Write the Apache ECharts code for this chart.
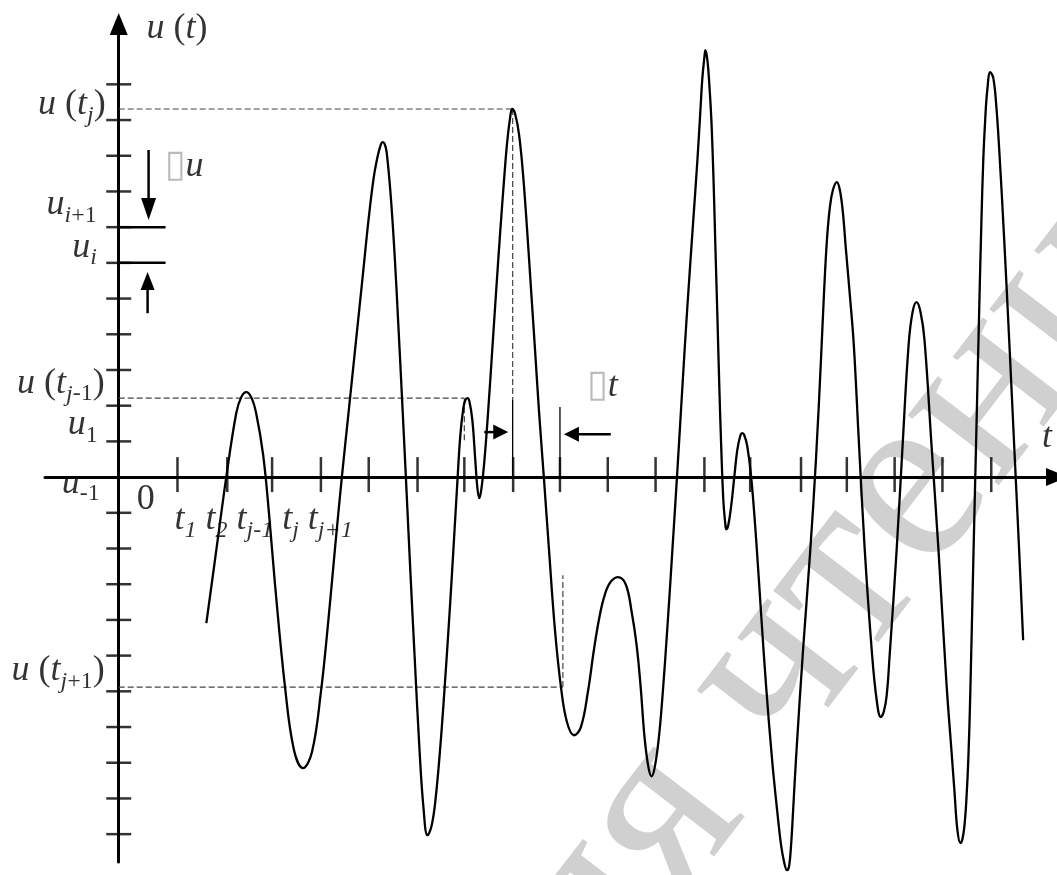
<!DOCTYPE html>
<html><head><meta charset="utf-8">
<script src="https://cdn.jsdelivr.net/npm/echarts@6/dist/echarts.min.js"></script>
<style>html,body{margin:0;padding:0;background:#fff}#c{width:1057px;height:875px}</style>
</head><body><div id="c"></div>
<script>
// ---- signal samples [t, u] (t in tick units, u in level units) ----
const signal = [
  [1.833,-4.09],[2.042,-2.04],[2.25,0],[2.458,1.79],[2.563,2.24],[2.667,2.38],
  [2.771,2.24],[2.875,1.79],[3.021,0.62],[3.146,-1.06],[3.271,-3.03],[3.479,-5.88],[3.667,-7.65],[3.854,-8.15],
  [4.042,-7.70],[4.229,-6.02],[4.375,-4.15],[4.521,-2.04],[4.667,0],[4.813,1.88],[4.958,3.75],[5.104,5.63],[5.229,7.25],[5.333,8.38],[5.417,8.99],[5.479,9.30],[5.521,9.38],
  [5.563,9.33],[5.604,9.10],[5.688,7.90],[5.771,6.22],[5.854,4.12],[5.938,1.88],[6.021,-0.42],[6.104,-2.75],[6.188,-4.99],[6.292,-7.65],[6.375,-9.27],[6.458,-10.03],
  [6.542,-9.78],[6.625,-9.05],[6.729,-7.51],[6.813,-5.97],[6.917,-3.87],[7.0,-2.04],[7.083,-0.14],[7.146,1.18],[7.208,1.93],[7.25,2.16],[7.292,2.21],
  [7.333,2.13],[7.396,1.60],[7.458,0.48],[7.5,-0.28],[7.542,-0.59],
  [7.583,-0.36],[7.646,0.42],[7.729,1.88],[7.813,3.56],[7.896,5.24],[7.979,6.86],[8.063,8.38],[8.125,9.38],[8.188,10.08],[8.229,10.31],
  [8.292,10.17],[8.375,9.58],[8.458,8.46],[8.542,6.92],[8.625,5.24],[8.708,3.56],[8.792,1.82],[8.896,-0.08],[9.0,-2.04],[9.125,-4.29],[9.25,-5.88],[9.375,-6.86],[9.521,-7.23],
  [9.667,-7.00],[9.813,-6.02],[9.938,-4.85],[10.042,-4.01],[10.146,-3.39],[10.271,-2.97],[10.438,-2.80],
  [10.604,-3.00],[10.729,-3.78],[10.833,-4.71],[10.917,-5.88],[11.0,-7.31],[11.083,-8.15],[11.146,-8.38],
  [11.208,-8.15],[11.292,-7.37],[11.375,-6.11],[11.479,-4.15],[11.583,-1.99],[11.688,0.25],[11.792,2.58],[11.896,4.82],[12.0,6.86],[12.104,8.88],[12.167,10.28],[12.208,11.18],[12.25,11.76],[12.271,11.96],
  [12.313,11.68],[12.354,10.98],[12.396,10.00],[12.438,8.46],[12.479,6.50],[12.521,4.54],[12.563,2.49],[12.604,0.76],[12.646,-0.64],[12.688,-1.32],[12.708,-1.46],
  [12.75,-1.34],[12.813,-0.78],[12.875,0],[12.938,0.76],[13.0,1.15],[13.042,1.23],
  [13.083,1.18],[13.146,0.87],[13.229,0],[13.333,-1.76],[13.438,-3.87],[13.542,-5.88],[13.667,-7.93],[13.771,-9.33],[13.854,-10.31],[13.917,-10.78],[13.979,-11.01],
  [14.021,-10.90],[14.063,-10.31],[14.104,-9.38],[14.167,-7.87],[14.313,-4.85],[14.458,-2.18],[14.583,0.48],[14.688,3.28],[14.75,5.10],[14.813,6.64],[14.875,7.56],[14.938,8.04],[15.021,8.26],
  [15.083,8.04],[15.146,7.42],[15.208,6.41],[15.292,5.10],[15.375,3.70],[15.479,1.04],[15.604,-2.04],[15.75,-4.85],[15.854,-6.25],[15.938,-6.72],
  [16.0,-6.58],[16.063,-6.11],[16.125,-4.99],[16.271,-2.04],[16.396,0.90],[16.521,3.70],[16.604,4.62],[16.688,4.90],
  [16.771,4.62],[16.854,3.84],[17.0,0.90],[17.146,-2.04],[17.313,-5.77],[17.417,-7.65],[17.479,-8.77],[17.542,-9.89],[17.604,-10.25],
  [17.646,-10.14],[17.688,-9.78],[17.729,-9.05],[17.771,-7.87],[17.813,-5.97],[17.875,-2.32],[17.938,1.26],[18.0,4.82],[18.042,7.06],[18.083,8.88],[18.125,10.06],[18.167,10.84],[18.229,11.34],
  [18.292,11.18],[18.354,10.42],[18.417,9.16],[18.521,6.64],[18.625,3.84],[18.729,0.90],[18.833,-2.04],[18.917,-4.57]
];
// ---- axis ticks ----
const xTicks = [1.229,2.271,3.208,4.229,5.229,6.25,7.229,8.25,9.229,10.229,11.229,12.25,13.208,14.271,15.229,16.229,17.229,18.25];
const yTicks = [-10,-9,-8,-7,-6,-5,-4,-3,-2,-1,1,2,3,4,5,6,7,8,9,10,11];
// ---- quantisation levels u_i, u_{i+1} ----
const levelU = [6, 7];
// ---- sampled instants and values ----
const tJm1 = 7.229, uJm1 = 2.21;
const tJ = 8.24,   uJ = 10.31;
const tJp1 = 9.29, uJp1 = -5.88;
const tDtRight = 9.229;

const FONT = '"Liberation Serif","Times New Roman",serif';

function seg(points, color, width, type, z) {
  return {type:'line', data:points, symbol:'none', showSymbol:false, silent:true, clip:false,
    lineStyle:{color:color, width:width, type:type || 'solid'}, z:z || 2};
}
function arrow(from, to, size, rot) {
  return {type:'line', data:[{value:from, symbol:'none'}, {value:to, symbol:'triangle', symbolSize:size, symbolRotate:rot}],
    showSymbol:true, silent:true, clip:false, itemStyle:{color:'#000'},
    lineStyle:{color:'#000', width:2.5}, z:4};
}

const rich = {
  i:{fontFamily:FONT, fontStyle:'italic', fontSize:36, lineHeight:46, verticalAlign:'middle', color:'#000'},
  r:{fontFamily:FONT, fontSize:36, lineHeight:46, verticalAlign:'middle', color:'#000'},
  si:{fontFamily:FONT, fontStyle:'italic', fontSize:24, lineHeight:24, verticalAlign:'bottom', color:'#000'},
  sr:{fontFamily:FONT, fontSize:24, lineHeight:24, verticalAlign:'bottom', color:'#000'},
  bx:{fontFamily:'"DejaVu Sans"', fontSize:38, lineHeight:46, verticalAlign:'middle', color:'#aaa'}
};

// annotation texts and anchors
const annotations = [
  {c:[0.583,12.55], pos:'right', text:'{i|u} {r|(}{i|t}{r|)}'},
  {c:[-0.271,10.43], pos:'left', text:'{i|u} {r|(}{i|t}{si|j}{r|)}'},
  {c:[-0.458,7.62], pos:'left', text:'{i|u}{si|i}{sr|+1}'},
  {c:[-0.458,6.44], pos:'left', text:'{i|u}{si|i}'},
  {c:[-0.292,2.63], pos:'left', text:'{i|u} {r|(}{i|t}{si|j}{sr|-1}{r|)}'},
  {c:[-0.4375,1.46], pos:'left', text:'{i|u}{sr|1}'},
  {c:[-0.396,-0.17], pos:'left', text:'{i|u}{sr|-1}'},
  {c:[0.375,-0.64], pos:'right', text:'{r|0}'},
  {c:[1.167,-1.18], pos:'right', text:'{i|t}{si|1} {i|t}{si|2} {i|t}{si|j-1} {i|t}{si|j} {i|t}{si|j+1}'},
  {c:[-0.292,-5.43], pos:'left', text:'{i|u} {r|(}{i|t}{si|j}{sr|+1}{r|)}'},
  {c:[19.31,1.12], pos:'right', text:'{i|t}'},
  {c:[0.958,8.71], pos:'right', text:'{bx|\u25AF}{i|u}'},
  {c:[9.79,2.55], pos:'right', text:'{bx|\u25AF}{i|t}'}
];

const series = [
  // dashed guides
  seg([[0,uJ],[tJ,uJ]], '#444', 1.2, [6,3], 1),
  seg([[tJ,uJ],[tJ,2.16]], '#444', 1.2, [6,3], 1),
  seg([[0,uJm1],[tJm1,uJm1]], '#444', 1.2, [6,3], 1),
  seg([[tJm1,uJm1],[tJm1,0.95]], '#444', 1.2, [6,3], 1),
  seg([[0,uJp1],[tJp1,uJp1]], '#444', 1.2, [6,3], 1),
  seg([[tJp1,uJp1],[tJp1,-2.75]], '#444', 1.2, [6,3], 1),
  // delta-t bounds
  seg([[tJ,2.16],[tJ,0]], '#000', 1.3, 'solid', 1),
  seg([[tDtRight,1.96],[tDtRight,0]], '#000', 1.3, 'solid', 1),
  // level lines u_i, u_{i+1}
  seg([[0,levelU[0]],[0.98,levelU[0]]], '#000', 2.5, 'solid', 3),
  seg([[0,levelU[1]],[0.98,levelU[1]]], '#000', 2.5, 'solid', 3),
  // arrows
  arrow([0.625,9.16],[0.625,7.51],[15,22],180),
  arrow([0.604,4.59],[0.604,5.49],[14,18],0),
  arrow([7.646,1.26],[7.99,1.26],[15,15],-90),
  arrow([10.292,1.20],[9.469,1.20],[15,15],90),
  // ticks
  {type:'scatter', data:xTicks.map(t => [t,0]), symbol:'rect', symbolSize:[2.5,35], symbolOffset:[0,-2.5],
    itemStyle:{color:'#000'}, silent:true, z:3},
  {type:'scatter', data:yTicks.map(u => [0,u]), symbol:'rect', symbolSize:[25,2.5],
    itemStyle:{color:'#000'}, silent:true, z:3},
  // signal
  {type:'line', name:'u(t)', data:signal, smooth:0.4, symbol:'none', showSymbol:false, clip:false, silent:true,
    lineStyle:{color:'#000', width:2.3}, z:5},
  // labels
  {type:'scatter', symbolSize:0, silent:true, z:6,
    data:annotations.map(a => ({value:a.c, label:{show:true, position:a.pos, distance:0, formatter:a.text,
      rich:rich, fontFamily:FONT, fontSize:36, lineHeight:46, color:'#000'}}))}
];

const chart = echarts.init(document.getElementById('c'), null, {renderer:'canvas'});
chart.setOption({
  animation:false,
  backgroundColor:'#fff',
  grid:{left:45, right:-4, top:24, bottom:13, containLabel:false},
  xAxis:{type:'value', min:-1.5417, max:19.625,
    axisLine:{onZero:true, symbol:['none','triangle'], symbolSize:[18,22], lineStyle:{color:'#000', width:3}},
    axisTick:{show:false}, axisLabel:{show:false}, splitLine:{show:false}},
  yAxis:{type:'value', min:-10.78, max:12.69,
    axisLine:{onZero:true, symbol:['none','triangle'], symbolSize:[18,22], lineStyle:{color:'#000', width:3}},
    axisTick:{show:false}, axisLabel:{show:false}, splitLine:{show:false}},
  graphic:[{type:'text', x:472, y:1064, rotation:52.5*Math.PI/180, silent:true, z:-10,
    style:{text:'для чтения', font:'250px "Liberation Serif", serif', fill:'#d0d0d0',
      textAlign:'left', textVerticalAlign:'middle', align:'left', verticalAlign:'middle'}}],
  series:series
});
</script></body></html>
